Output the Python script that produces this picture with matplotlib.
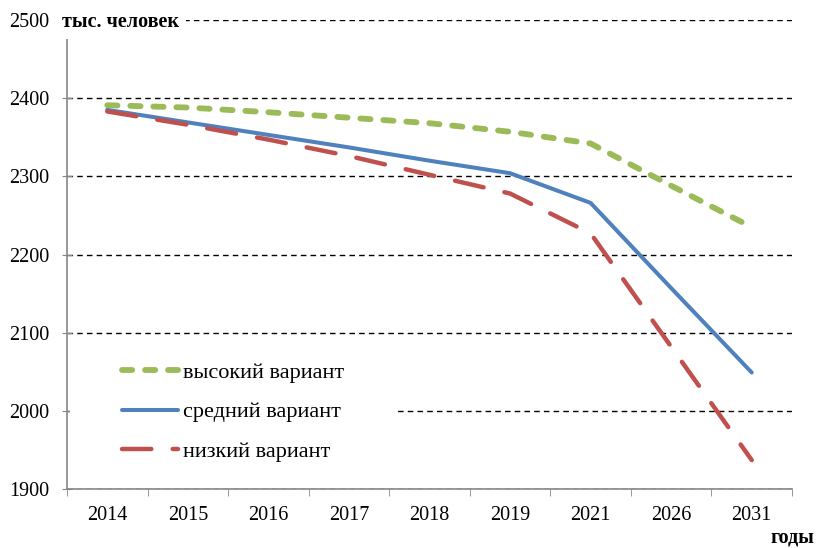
import matplotlib
matplotlib.use("Agg")
import matplotlib.pyplot as plt
from matplotlib.patches import Rectangle

plt.rcParams['font.family'] = ['Liberation Serif', 'DejaVu Serif']

years = ["2014", "2015", "2016", "2017", "2018", "2019", "2021", "2026", "2031"]
high = [2391, 2388, 2382, 2375, 2368, 2357, 2342, 2288, 2235]
medium = [2385, 2369, 2353, 2337, 2320, 2304, 2266, 2157, 2049]
low = [2383, 2366, 2347, 2326, 2302, 2278, 2227, 2082, 1937]
yticks = [1900, 2000, 2100, 2200, 2300, 2400, 2500]

fig = plt.figure(figsize=(8.19, 5.48), dpi=100)
ax = fig.add_axes([67/819, 1-489/548, (792-67)/819, (489-20)/548])

x = list(range(len(years)))
ax.plot(x, high, color='#9BBB59', lw=4.2, dashes=(1.75, 2.2), solid_capstyle='round',
        dash_capstyle='round', label='высокий вариант', zorder=3)
ax.plot(x, medium, color='#4F81BD', lw=2.9, solid_capstyle='round',
        label='средний вариант', zorder=3)
ax.plot(x, low, color='#C0504D', lw=3.2, dashes=(6.6, 4.8), dash_capstyle='round',
        label='низкий вариант', zorder=3)

ax.set_xlim(-0.5, len(years)-0.5)
ax.set_ylim(1900, 2500)
ax.set_yticks(yticks)
ax.set_yticklabels([str(v) for v in yticks])
ax.set_xticks(x)
ax.set_xticklabels(years)
ax.set_xticks([i-0.5 for i in range(len(years)+1)], minor=True)

ax.tick_params(axis='x', which='major', length=0, pad=12, labelsize=14.5)
ax.tick_params(axis='x', which='minor', length=5, color='#868686', direction='out')
ax.tick_params(axis='y', which='major', length=7, color='#868686', direction='inout',
               pad=9, labelsize=14.5)

for s in ['top', 'right']:
    ax.spines[s].set_visible(False)
for s in ['left', 'bottom']:
    ax.spines[s].set_color('#868686')
    ax.spines[s].set_linewidth(1.2)

ax.yaxis.grid(True, color='black', linestyle=(0, (4, 3)), lw=1.0)
ax.set_axisbelow(True)

# white legend area covering gridlines
ax.add_patch(Rectangle((0.004, (489-478)/469), (395-68)/725, (478-347)/469,
                       transform=ax.transAxes, facecolor='white', edgecolor='none',
                       zorder=2.5))

leg = ax.legend(loc='center left', bbox_to_anchor=((122-67)/725, (489-412)/469),
                frameon=False, fontsize=16, handlelength=2.5, handletextpad=0.25,
                labelspacing=0.85, borderpad=0, borderaxespad=0)
leg.set_zorder(5)

fig.text(62/819, 1-22/548, 'тыс. человек', fontsize=14.5, fontweight='bold', va='center',
         ha='left', bbox=dict(facecolor='white', edgecolor='none', pad=5), zorder=10)
fig.text(814/819, 1-537/548, 'годы', fontsize=14.5, fontweight='bold', va='center', ha='right')

fig.savefig('out.png', dpi=100)
